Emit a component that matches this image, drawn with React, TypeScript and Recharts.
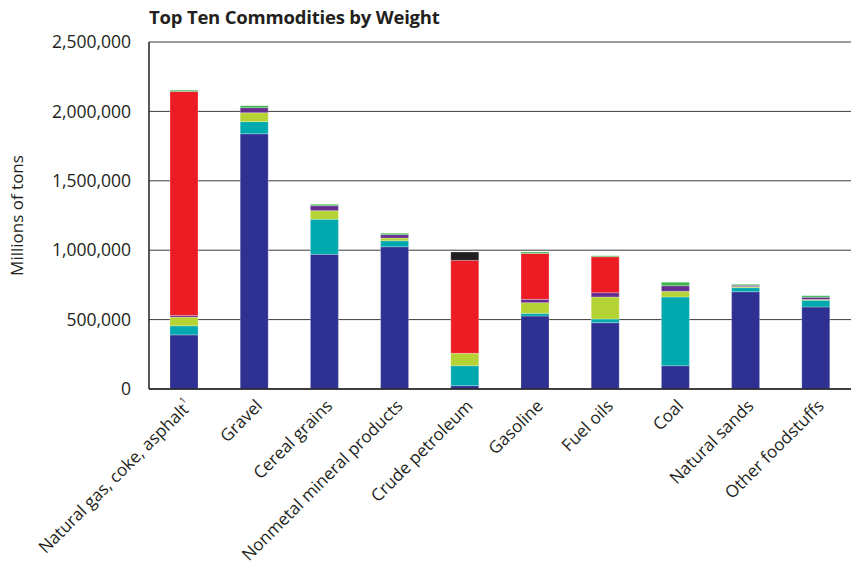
import React from 'react';
import { BarChart, Bar, XAxis, YAxis, CartesianGrid } from 'recharts';

const categories = [
  'Natural gas, coke, asphalt',
  'Gravel',
  'Cereal grains',
  'Nonmetal mineral products',
  'Crude petroleum',
  'Gasoline',
  'Fuel oils',
  'Coal',
  'Natural sands',
  'Other foodstuffs',
];

// stacked segments, bottom to top (tons)
const blueVals = [390000, 1839000, 970000, 1025000, 24000, 526000, 478000, 168000, 701000, 591000];
const tealVals = [65000, 87000, 253000, 43000, 144000, 19000, 26000, 495000, 29000, 48000];
const limeVals = [63000, 65000, 62000, 20000, 89000, 77000, 159000, 41000, 8000, 6000];
const purpleVals = [12000, 36000, 36000, 24000, 0, 24000, 31000, 40000, 9000, 16000];
const redVals = [1614000, 0, 0, 0, 670000, 331000, 259000, 0, 0, 0];
const blackVals = [0, 0, 0, 0, 60000, 0, 0, 0, 0, 0];
const greenVals = [9000, 14000, 10000, 10000, 0, 10000, 7000, 25000, 7000, 11000];

const yTicks = [0, 500000, 1000000, 1500000, 2000000, 2500000];

const series = [
  { key: 'blue', vals: blueVals, color: '#2E3192' },
  { key: 'teal', vals: tealVals, color: '#00A9AE' },
  { key: 'lime', vals: limeVals, color: '#B5D334' },
  { key: 'purple', vals: purpleVals, color: '#662D91' },
  { key: 'red', vals: redVals, color: '#ED1C24' },
  { key: 'black', vals: blackVals, color: '#231F20' },
  { key: 'green', vals: greenVals, color: '#39B54A' },
];

const data = categories.map((name, i) => {
  const row: any = { name };
  series.forEach((s) => (row[s.key] = s.vals[i]));
  return row;
});

const FONT = '"Open Sans", "Noto Sans", sans-serif';

const fmt = (v: number) => v.toLocaleString('en-US');

const XTick = (props: any) => {
  const { x, y, payload } = props;
  const tx = x + 9;
  const ty = y + 10;
  const withNote = payload.value === 'Natural gas, coke, asphalt';
  return (
    <text
      x={tx}
      y={ty}
      transform={`rotate(-45, ${tx}, ${ty})`}
      textAnchor="end"
      fontSize={17}
      fontFamily={FONT}
      fill="#231F20"
    >
      {payload.value}
      {withNote && (
        <tspan fontSize={9} dy={-9}>
          {'1'}
        </tspan>
      )}
    </text>
  );
};

export default function App() {
  return (
    <div style={{ position: 'absolute', left: 0, top: 0, width: 857, height: 568, background: '#fff' }}>
      <div
        style={{
          position: 'absolute',
          left: 149,
          top: 4,
          fontFamily: FONT,
          fontWeight: 700,
          fontSize: 18.5,
          letterSpacing: -0.2,
          color: '#231F20',
          whiteSpace: 'nowrap',
        }}
      >
        Top Ten Commodities by Weight
      </div>
      <BarChart
        width={857}
        height={568}
        data={data}
        margin={{ top: 42, right: 6, left: 0, bottom: 0 }}
        barSize={28}
      >
        <CartesianGrid vertical={false} stroke="#3b3b3b" strokeWidth={1} />
        <XAxis
          dataKey="name"
          height={179}
          interval={0}
          tickLine={false}
          axisLine={{ stroke: '#231F20', strokeWidth: 1.5 }}
          tick={<XTick />}
        />
        <YAxis
          width={149}
          domain={[0, 2500000]}
          ticks={yTicks}
          tickFormatter={fmt}
          tickLine={false}
          tickSize={0}
          tickMargin={18}
          axisLine={{ stroke: '#231F20', strokeWidth: 1.5 }}
          tick={{ fontSize: 17.5, fontFamily: FONT, fill: '#231F20' }}
          label={{
            value: 'Millions of tons',
            angle: -90,
            position: 'insideLeft',
            offset: 17,
            style: { fontSize: 17, fontFamily: FONT, fill: '#231F20', textAnchor: 'middle' },
          }}
        />
        {series.map((s) => (
          <Bar
            key={s.key}
            dataKey={s.key}
            stackId="a"
            fill={s.color}
            stroke="#ffffff"
            strokeOpacity={0.5}
            strokeWidth={0.5}
            isAnimationActive={false}
          />
        ))}
      </BarChart>
    </div>
  );
}
